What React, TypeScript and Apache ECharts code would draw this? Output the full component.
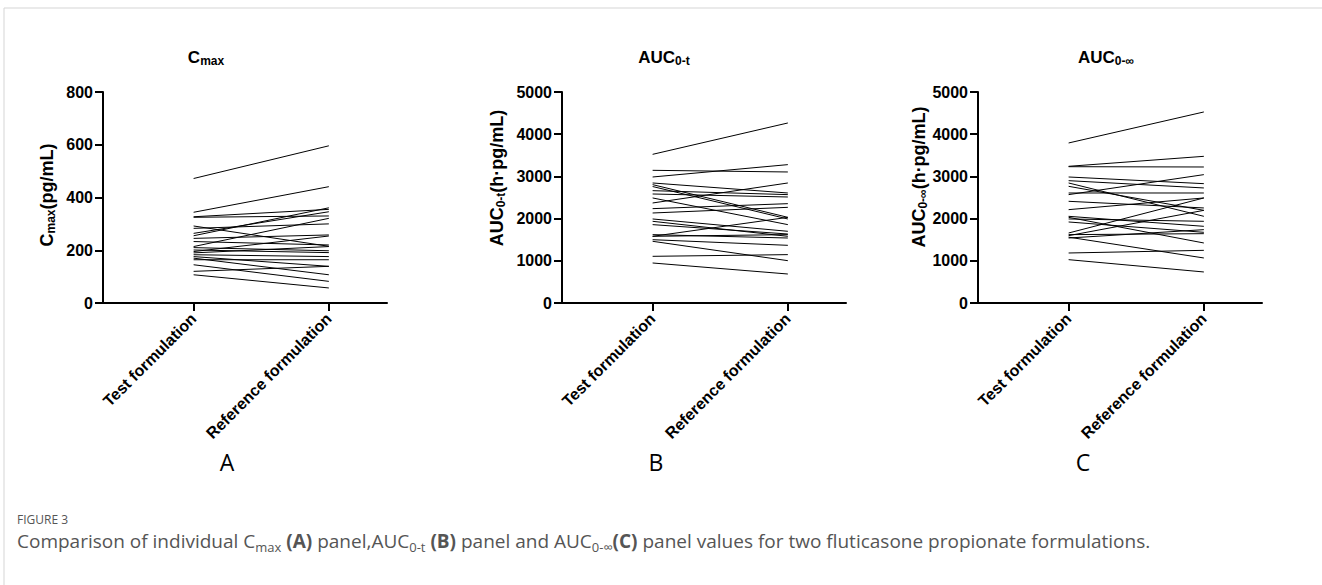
import React, { useEffect, useRef } from 'react';
import * as echarts from 'echarts';

const categories = ['Test formulation', 'Reference formulation'];
const catPos = [0.67, 1.67];

// Panel A: Cmax (pg/mL)
const cmaxTest = [472, 344, 327, 325, 292, 283, 264, 255, 245, 233, 214, 210, 201, 195, 190, 183, 176, 170, 164, 145, 120, 107];
const cmaxRef = [596, 441, 355, 330, 215, 300, 346, 361, 258, 220, 321, 198, 191, 254, 214, 176, 139, 107, 164, 82, 139, 57];

// Panel B: AUC0-t (h·pg/mL)
const auctTest = [3523, 3144, 2986, 2844, 2805, 2760, 2662, 2583, 2489, 2370, 2236, 2133, 1991, 1936, 1857, 1620, 1580, 1500, 1462, 1106, 948, 1580];
const auctRef = [4266, 3105, 3279, 2607, 2030, 1991, 2568, 2512, 1857, 2844, 2354, 2267, 1699, 1580, 1635, 1540, 2030, 1367, 1003, 1146, 687, 1620];

// Panel C: AUC0-inf (h·pg/mL)
const aucinfTest = [3792, 3239, 3230, 2986, 2899, 2844, 2765, 2607, 2568, 2410, 2212, 2054, 1991, 1920, 1659, 1596, 1540, 1620, 2030, 1560, 1185, 1027];
const aucinfRef = [4527, 3476, 3223, 2828, 2726, 2054, 2196, 2607, 3042, 2252, 2489, 1817, 1936, 1675, 2489, 2196, 1738, 1643, 1422, 1067, 1248, 735];

const yMax = [800, 5000, 5000];
const yInterval = [200, 1000, 1000];

const FONT = 'Liberation Sans, Arial, sans-serif';

export default function App() {
  const ref = useRef<HTMLDivElement>(null);
  useEffect(() => {
    if (!ref.current) return;
    const chart = echarts.init(ref.current, null, { renderer: 'svg' });
    const grids = [
      { left: 103, top: 92, width: 284, height: 211 },
      { left: 562, top: 92, width: 284, height: 211 },
      { left: 978, top: 92, width: 284, height: 211 },
    ];
    const panels = [
      [cmaxTest, cmaxRef],
      [auctTest, auctRef],
      [aucinfTest, aucinfRef],
    ];
    const xAxes = grids.map((_, i) => ({
      type: 'value',
      gridIndex: i,
      min: 0,
      max: 2.1,
      splitLine: { show: false },
      axisLine: { show: true, lineStyle: { color: '#000', width: 2 } },
      axisTick: { show: true, customValues: catPos, length: 8, lineStyle: { color: '#000', width: 2 } },
      axisLabel: {
        show: true,
        customValues: catPos,
        rotate: 45,
        margin: 13,
        color: '#000',
        fontWeight: 'bold',
        fontSize: 16,
        fontFamily: FONT,
        formatter: (v: number) => categories[Math.round(v - catPos[0])],
      },
    }));
    const yAxes = grids.map((_, i) => ({
      type: 'value',
      gridIndex: i,
      min: 0,
      max: yMax[i],
      interval: yInterval[i],
      splitLine: { show: false },
      axisLine: { show: true, lineStyle: { color: '#000', width: 2 } },
      axisTick: { show: true, length: 8, lineStyle: { color: '#000', width: 2 } },
      axisLabel: {
        color: '#000', fontWeight: 'bold', fontSize: 16, fontFamily: FONT, margin: 10,
        formatter: (v: number) => String(v),
      },
    }));
    const series: any[] = [];
    panels.forEach(([t, r], p) => {
      t.forEach((v, i) => {
        series.push({
          type: 'line',
          xAxisIndex: p,
          yAxisIndex: p,
          symbol: 'none',
          silent: true,
          lineStyle: { color: '#000', width: 1 },
          data: [[catPos[0], v], [catPos[1], r[i]]],
        });
      });
    });
    const titleRich = {
      b: { fontSize: 17, fontWeight: 'bold', fontFamily: FONT, fill: '#000', lineHeight: 20 },
      s: { fontSize: 12, fontWeight: 'bold', fontFamily: FONT, fill: '#000', lineHeight: 12, verticalAlign: 'bottom', padding: [7, 0, 0, 0] },
    };
    const nameRich = {
      b: { fontSize: 18, fontWeight: 'bold', fontFamily: FONT, fill: '#000', lineHeight: 20 },
      s: { fontSize: 12, fontWeight: 'bold', fontFamily: FONT, fill: '#000', lineHeight: 12, verticalAlign: 'bottom', padding: [7, 0, 0, 0] },
    };
    const CF = 'Open Sans, sans-serif';
    const capRich = {
      n: { fontSize: 19, fontFamily: CF, fill: '#555', lineHeight: 24 },
      b: { fontSize: 19, fontFamily: CF, fontWeight: 'bold', fill: '#555', lineHeight: 24 },
      s: { fontSize: 13, fontFamily: CF, fill: '#555', lineHeight: 14, verticalAlign: 'bottom', padding: [8, 0, 0, 0] },
    };
    const titles = [
      { x: 206, text: '{b|C}{s|max}' },
      { x: 664, text: '{b|AUC}{s|0-t}' },
      { x: 1106, text: '{b|AUC}{s|0-∞}' },
    ];
    const names = [
      { x: 47, y: 195, text: '{b|C}{s|max}{b|(pg/mL)}' },
      { x: 497, y: 178, text: '{b|AUC}{s|0-t}{b|(h·pg/mL)}' },
      { x: 919, y: 177, text: '{b|AUC}{s|0-∞}{b|(h·pg/mL)}' },
    ];
    const letters = [
      { x: 227, t: 'A' },
      { x: 656, t: 'B' },
      { x: 1083, t: 'C' },
    ];
    const graphic: any[] = [
      { type: 'line', shape: { x1: 4, y1: 8, x2: 1322, y2: 8 }, style: { stroke: '#d5d5d5', lineWidth: 1 } },
      { type: 'line', shape: { x1: 4, y1: 8, x2: 4, y2: 585 }, style: { stroke: '#d5d5d5', lineWidth: 1 } },
      ...titles.map((t) => ({
        type: 'text', x: t.x, y: 57,
        style: { text: t.text, rich: titleRich, align: 'center', verticalAlign: 'middle' },
      })),
      ...names.map((n) => ({
        type: 'text', x: n.x, y: n.y, rotation: Math.PI / 2,
        style: { text: n.text, rich: nameRich, align: 'center', verticalAlign: 'middle' },
      })),
      ...letters.map((l) => ({
        type: 'text', x: l.x, y: 462,
        style: { text: l.t, fontSize: 23, fontFamily: CF, fill: '#000', align: 'center', verticalAlign: 'middle' },
      })),
      {
        type: 'text', x: 17, y: 519,
        style: { text: 'FIGURE 3', fontSize: 12, fontFamily: CF, fill: '#555', align: 'left', verticalAlign: 'middle' },
      },
      {
        type: 'text', x: 17, y: 541,
        style: {
          text: '{n|Comparison of individual C}{s|max}{b| (A)}{n| panel,AUC}{s|0-t}{b| (B)}{n| panel and AUC}{s|0-∞}{b|(C)}{n| panel values for two fluticasone propionate formulations.}',
          rich: capRich, align: 'left', verticalAlign: 'middle',
        },
      },
    ];
    chart.setOption({
      animation: false,
      backgroundColor: '#fff',
      grid: grids,
      xAxis: xAxes,
      yAxis: yAxes,
      series,
      graphic,
    });
    return () => chart.dispose();
  }, []);
  return <div ref={ref} style={{ position: 'fixed', left: 0, top: 0, width: 1322, height: 585 }} />;
}
